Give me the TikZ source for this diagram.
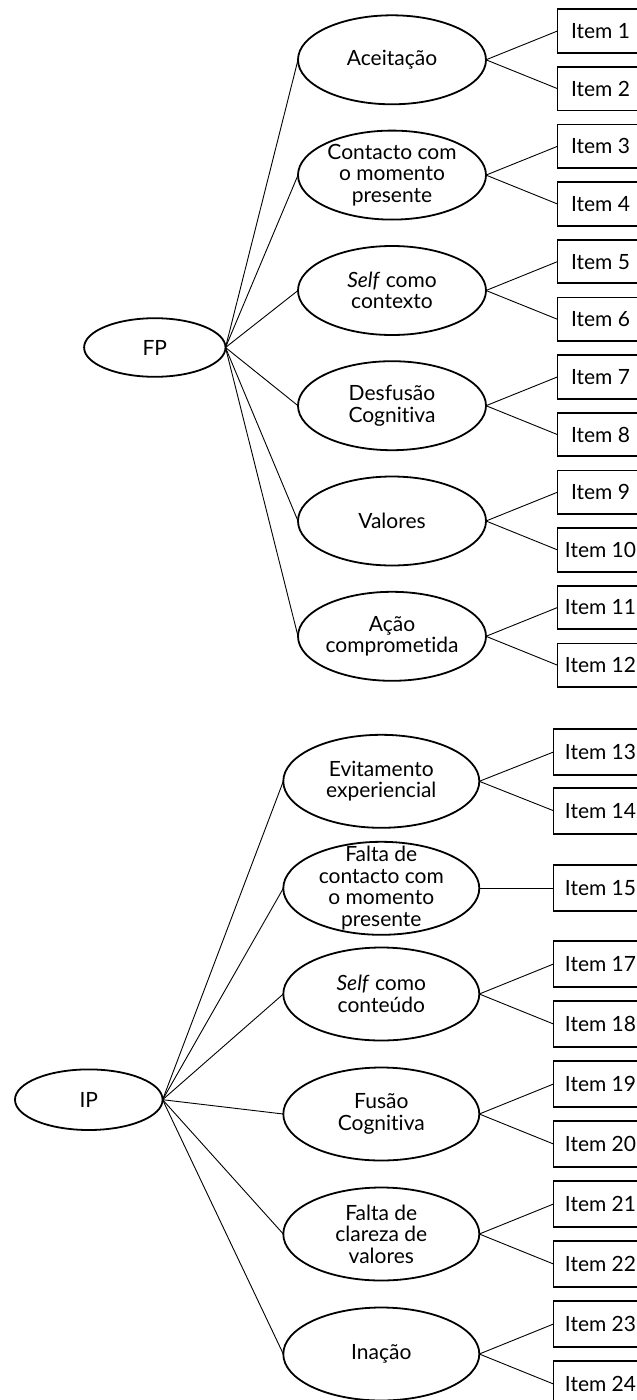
\documentclass[tikz,border=0pt]{standalone}
\usepackage{fontspec}
\setmainfont{Lato}[Ligatures=NoCommon]
\usetikzlibrary{shapes.geometric}
\begin{document}
\begin{tikzpicture}[x=1pt,y=-1pt,
  ell/.style={draw, line width=1.8pt, ellipse, inner sep=0pt, outer sep=0pt},
  topell/.style={ell, minimum width=188pt, minimum height=89pt},
  botell/.style={ell, minimum width=196pt, minimum height=93pt},
  lbl/.style={align=center, font=\fontsize{21}{21.5}\selectfont, inner sep=0pt},
  item/.style={draw, line width=1.8pt, rectangle, inner sep=0pt, outer sep=0pt, font=\fontsize{21}{21.5}\selectfont},
  topitem/.style={item, minimum width=86pt, minimum height=43.5pt},
  botitem/.style={item, minimum width=94pt, minimum height=46pt},
  conn/.style={line width=0.9pt}
]
\useasboundingbox (0,0) rectangle (637,1400);
\clip (0,0) rectangle (637,1400);

% ---------- FP ----------
\node[ell, minimum width=141.4pt, minimum height=58.6pt] (fp) at (154.8,347.5) {};
\node[lbl] (fpt) at (fp) {FP};

\node[topell] (c1) at (392,59.8) {};
\node[lbl] (c1t) at (c1) {Aceitação};
\node[topell] (c2) at (392,175.1) {};
\node[lbl] (c2t) at (c2) {Contacto com\\o momento\\presente};
\node[topell] (c3) at (392,290.5) {};
\node[lbl] (c3t) at (c3) {\textit{Self} como\\contexto};
\node[topell] (c4) at (392,405.7) {};
\node[lbl] (c4t) at (c4) {Desfusão\\Cognitiva};
\node[topell] (c5) at (392,521) {};
\node[lbl] (c5t) at (c5) {Valores};
\node[topell] (c6) at (392,636.3) {};
\node[lbl] (c6t) at (c6) {Ação\\comprometida};

\node[topitem] (i1) at (600.5,31) {Item 1};
\node[topitem] (i2) at (600.5,88.65) {Item 2};
\node[topitem] (i3) at (600.5,146.3) {Item 3};
\node[topitem] (i4) at (600.5,204) {Item 4};
\node[topitem] (i5) at (600.5,261.6) {Item 5};
\node[topitem] (i6) at (600.5,319.3) {Item 6};
\node[topitem] (i7) at (600.5,376.9) {Item 7};
\node[topitem] (i8) at (600.5,434.6) {Item 8};
\node[topitem] (i9) at (600.5,492.2) {Item 9};
\node[topitem] (i10) at (600.5,549.9) {Item 10};
\node[topitem] (i11) at (600.5,607.5) {Item 11};
\node[topitem] (i12) at (600.5,665.2) {Item 12};

\foreach \c in {c1,c2,c3,c4,c5,c6} \draw[conn] (fp.east) -- (\c.west);
\draw[conn] (c1.east) -- (i1.west);
\draw[conn] (c1.east) -- (i2.west);
\draw[conn] (c2.east) -- (i3.west);
\draw[conn] (c2.east) -- (i4.west);
\draw[conn] (c3.east) -- (i5.west);
\draw[conn] (c3.east) -- (i6.west);
\draw[conn] (c4.east) -- (i7.west);
\draw[conn] (c4.east) -- (i8.west);
\draw[conn] (c5.east) -- (i9.west);
\draw[conn] (c5.east) -- (i10.west);
\draw[conn] (c6.east) -- (i11.west);
\draw[conn] (c6.east) -- (i12.west);

% ---------- IP ----------
\node[ell, minimum width=147.6pt, minimum height=60.6pt] (ip) at (88.8,1099.7) {};
\node[lbl] (ipt) at (ip) {IP};

\node[botell] (d1) at (381.3,781.3) {};
\node[lbl] (d1t) at (d1) {Evitamento\\experiencial};
\node[botell] (d2) at (381.3,888.3) {};
\node[lbl] (d2t) at (d2) {Falta de\\contacto com\\o momento\\presente};
\node[botell] (d3) at (381.3,994) {};
\node[lbl] (d3t) at (d3) {\textit{Self} como\\conteúdo};
\node[botell] (d4) at (381.3,1114) {};
\node[lbl] (d4t) at (d4) {Fusão\\Cognitiva};
\node[botell] (d5) at (381.3,1234) {};
\node[lbl] (d5t) at (d5) {Falta de\\clareza de\\valores};
\node[botell] (d6) at (381.3,1354) {};
\node[lbl] (d6t) at (d6) {Inação};

\node[botitem] (j13) at (600.5,752) {Item 13};
\node[botitem] (j14) at (600.5,810.7) {Item 14};
\node[botitem] (j15) at (600.5,888.3) {Item 15};
\node[botitem] (j17) at (600.5,964) {Item 17};
\node[botitem] (j18) at (600.5,1024) {Item 18};
\node[botitem] (j19) at (600.5,1084) {Item 19};
\node[botitem] (j20) at (600.5,1144) {Item 20};
\node[botitem] (j21) at (600.5,1204) {Item 21};
\node[botitem] (j22) at (600.5,1264) {Item 22};
\node[botitem] (j23) at (600.5,1324) {Item 23};
\node[botitem] (j24) at (600.5,1384) {Item 24};

\foreach \d in {d1,d2,d3,d4,d5,d6} \draw[conn] (ip.east) -- (\d.west);
\draw[conn] (d1.east) -- (j13.west);
\draw[conn] (d1.east) -- (j14.west);
\draw[conn] (d2.east) -- (j15.west);
\draw[conn] (d3.east) -- (j17.west);
\draw[conn] (d3.east) -- (j18.west);
\draw[conn] (d4.east) -- (j19.west);
\draw[conn] (d4.east) -- (j20.west);
\draw[conn] (d5.east) -- (j21.west);
\draw[conn] (d5.east) -- (j22.west);
\draw[conn] (d6.east) -- (j23.west);
\draw[conn] (d6.east) -- (j24.west);
\end{tikzpicture}
\end{document}
